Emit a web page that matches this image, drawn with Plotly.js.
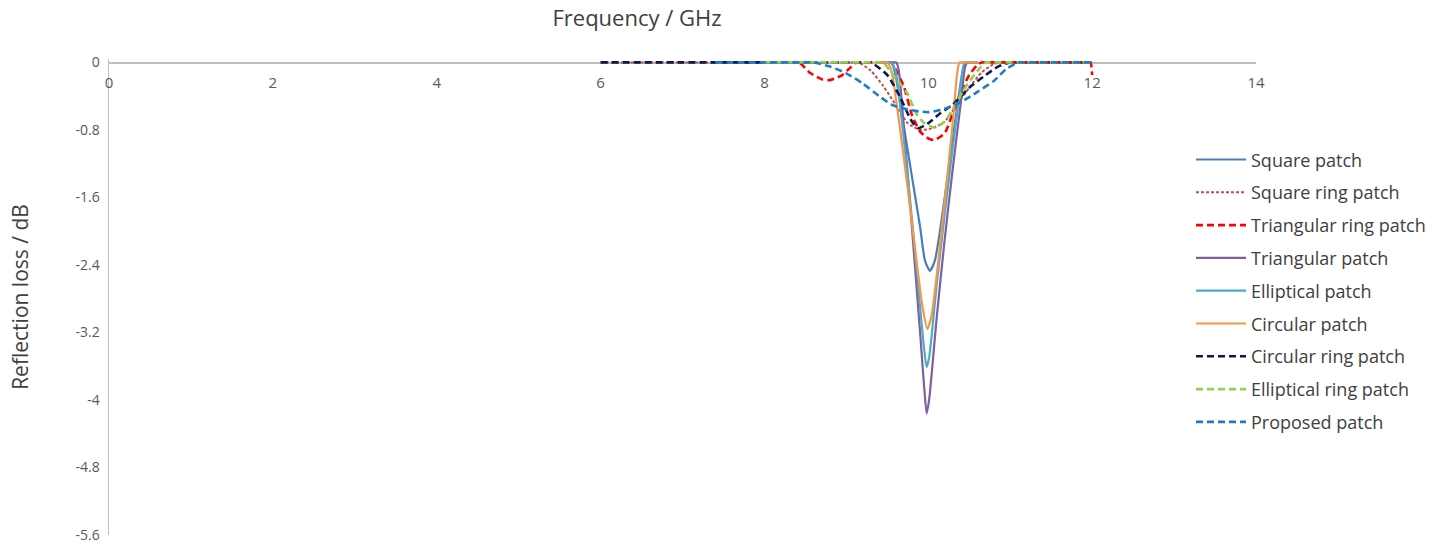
<!DOCTYPE html>
<html>
<head>
<meta charset="utf-8">
<script src="https://cdn.plot.ly/plotly-3.0.1.min.js"></script>
<style>html,body{margin:0;padding:0;background:#fff;}#chart{width:1445px;height:547px;}</style>
</head>
<body>
<div id="chart"></div>
<script>
// ---- data (frequency in GHz, reflection loss in dB) ----
const squarePatchX = [9.4, 9.52, 9.55, 9.6, 9.7, 9.8, 9.9, 9.96, 10.02, 10.08, 10.15, 10.25, 10.35, 10.42, 10.46, 10.49, 10.6];
const squarePatchY = [0, 0, 0, -0.15, -0.75, -1.35, -1.95, -2.35, -2.47, -2.35, -1.95, -1.25, -0.55, -0.1, 0, 0, 0];

const squareRingX = [6, 7, 8, 9.1, 9.15, 9.3, 9.45, 9.6, 9.75, 9.9, 10.05, 10.2, 10.35, 10.5, 10.65, 10.8, 10.9, 10.95, 12];
const squareRingY = [0, 0, 0, 0, 0, -0.1, -0.28, -0.5, -0.72, -0.8, -0.78, -0.7, -0.5, -0.3, -0.12, -0.02, 0, 0, 0];

const triRingX = [8.3, 8.4, 8.45, 8.55, 8.7, 8.8, 8.95, 9.05, 9.13, 9.18, 9.5, 9.55, 9.6, 9.7, 9.8, 9.9, 10.0, 10.07, 10.2, 10.3, 10.4, 10.5, 10.6, 10.65, 10.7, 11.5, 11.95, 11.98, 12];
const triRingY = [0, 0, -0.02, -0.12, -0.2, -0.21, -0.15, -0.06, 0, 0, 0, 0, -0.08, -0.28, -0.62, -0.82, -0.9, -0.92, -0.84, -0.6, -0.35, -0.15, -0.03, 0, 0, 0, 0, 0, -0.15];

const triPatchX = [9.4, 9.58, 9.61, 9.64, 9.7, 9.8, 9.9, 9.95, 9.98, 10.01, 10.05, 10.1, 10.2, 10.3, 10.4, 10.45, 10.48, 10.51, 10.6];
const triPatchY = [0, 0, 0, -0.1, -0.75, -1.95, -3.2, -3.85, -4.16, -4.0, -3.6, -3.05, -2.1, -1.25, -0.45, -0.05, 0, 0, 0];

const ellPatchX = [9.4, 9.52, 9.55, 9.6, 9.7, 9.8, 9.9, 9.95, 9.98, 10.01, 10.05, 10.1, 10.2, 10.3, 10.4, 10.44, 10.47, 10.6];
const ellPatchY = [0, 0, 0, -0.1, -0.9, -1.85, -2.9, -3.4, -3.61, -3.5, -3.15, -2.65, -1.8, -1.0, -0.25, 0, 0, 0];

const circPatchX = [9.4, 9.47, 9.5, 9.55, 9.65, 9.75, 9.85, 9.93, 9.99, 10.04, 10.1, 10.2, 10.3, 10.35, 10.38, 10.41, 10.6];
const circPatchY = [0, 0, 0, -0.1, -0.75, -1.5, -2.3, -2.9, -3.16, -3.0, -2.55, -1.65, -0.7, -0.15, 0, 0, 0];

const circRingX = [6, 7, 8, 9.25, 9.3, 9.5, 9.65, 9.8, 9.88, 10.0, 10.15, 10.3, 10.5, 10.7, 10.85, 11.0, 11.05, 12];
const circRingY = [0, 0, 0, 0, 0, -0.15, -0.4, -0.7, -0.78, -0.72, -0.6, -0.5, -0.3, -0.15, -0.05, 0, 0, 0];

const ellRingX = [8, 9.4, 9.45, 9.57, 9.74, 9.85, 9.95, 10.08, 10.2, 10.3, 10.45, 10.6, 10.7, 10.75, 12];
const ellRingY = [0, 0, 0, -0.15, -0.36, -0.6, -0.72, -0.77, -0.7, -0.55, -0.3, -0.1, 0, 0, 0];

const proposedX = [7.4, 8, 8.55, 8.6, 8.8, 9.0, 9.2, 9.4, 9.55, 9.75, 10.0, 10.2, 10.4, 10.6, 10.8, 10.95, 11.1, 11.15, 12];
const proposedY = [0, 0, 0, 0, -0.05, -0.13, -0.25, -0.4, -0.5, -0.56, -0.59, -0.55, -0.47, -0.35, -0.22, -0.08, 0, 0, 0];

const seriesNames = ['Square patch', 'Square ring patch', 'Triangular ring patch', 'Triangular patch', 'Elliptical patch', 'Circular patch', 'Circular ring patch', 'Elliptical ring patch', 'Proposed patch'];
const xTickVals = [0, 2, 4, 6, 8, 10, 12, 14];
const yTickVals = [0, -0.8, -1.6, -2.4, -3.2, -4, -4.8, -5.6];
const yTickText = ['0', '-0.8', '-1.6', '-2.4', '-3.2', '-4', '-4.8', '-5.6'];

// ---- styling ----
const xs = [squarePatchX, squareRingX, triRingX, triPatchX, ellPatchX, circPatchX, circRingX, ellRingX, proposedX];
const ys = [squarePatchY, squareRingY, triRingY, triPatchY, ellPatchY, circPatchY, circRingY, ellRingY, proposedY];
const colors = ['#4A7EBB', '#C0504D', '#FF0000', '#7F5FA0', '#4BACC6', '#F79646', '#0D1A4D', '#92D050', '#1F7CC8'];
const dashes = ['solid', '3px,2px', '7px,4px', 'solid', 'solid', 'solid', '7px,4px', '7px,4px', '7px,4px'];
const widths = [2.2, 2, 2.6, 2.2, 2.2, 2.2, 2.6, 2.6, 2.6];

const traces = seriesNames.map((n, i) => ({
  type: 'scatter', mode: 'lines', name: n,
  x: xs[i], y: ys[i],
  legendgroup: 'g' + i,
  line: {color: colors[i], width: widths[i], dash: dashes[i], shape: 'spline', smoothing: 0.6}
}));

const yTop = 0.04;            // small headroom so lines lying on 0 are not clipped
const pxPerUnit = 473 / 5.6;
const layout = {
  width: 1445, height: 547,
  margin: {l: 109, r: 189, t: 62 - yTop * pxPerUnit, b: 12},
  paper_bgcolor: '#ffffff', plot_bgcolor: '#ffffff',
  font: {family: 'Open Sans, sans-serif', color: '#404040'},
  title: {text: 'Frequency / GHz', x: 637 / 1445, xanchor: 'center', y: 1 - 18 / 547, yanchor: 'middle',
          font: {size: 22, color: '#404040'}},
  xaxis: {
    range: [0, 14], side: 'bottom', anchor: 'free', position: 1 - yTop / (5.6 + yTop),
    tickvals: xTickVals, showgrid: false, zeroline: false,
    showline: true, linecolor: '#BFBFBF', linewidth: 1.5, layer: 'below traces',
    ticks: 'outside', ticklen: 6, tickcolor: 'rgba(0,0,0,0)',
    tickfont: {size: 15, color: '#595959'}
  },
  yaxis: {
    range: [-5.6, yTop], tickvals: yTickVals, ticktext: yTickText,
    showgrid: false, zeroline: false, showline: true, linecolor: '#BFBFBF', linewidth: 1.5, layer: 'below traces',
    ticks: 'outside', ticklen: 5, tickcolor: 'rgba(0,0,0,0)',
    tickfont: {size: 14, color: '#595959'},
    title: {text: 'Reflection loss / dB', font: {size: 21, color: '#404040'}, standoff: 41}
  },
  showlegend: true,
  legend: {x: (1191 - 109) / 1147, xanchor: 'left', y: 1 - (141 - 62 + yTop * pxPerUnit) / (473 + yTop * pxPerUnit), yanchor: 'top',
           itemwidth: 50, traceorder: 'grouped', tracegroupgap: 6.4, font: {size: 18, color: '#404040'},
           bgcolor: 'rgba(0,0,0,0)'}
};

Plotly.newPlot('chart', traces, layout, {displayModeBar: false, staticPlot: true});
</script>
</body>
</html>
